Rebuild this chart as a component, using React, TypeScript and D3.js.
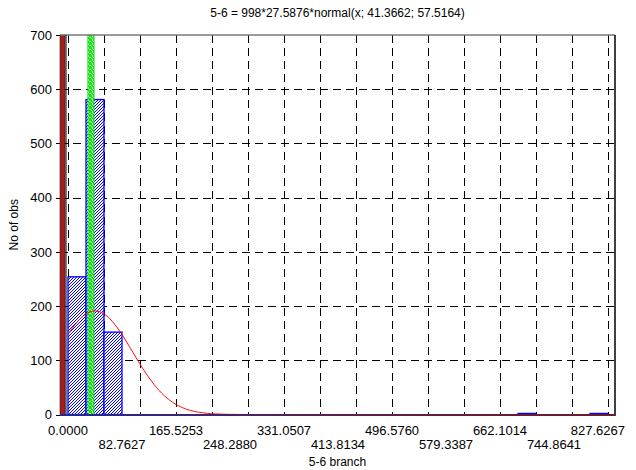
import React, { useRef, useEffect } from 'react';
import * as d3 from 'd3';

// histogram of "5-6 branch", 30 bins of width 27.5876
const binWidth = 27.5876;
const binCounts = [
  254, 581, 152, 0, 0, 0, 0, 0, 0, 0,
  0, 0, 0, 0, 0, 0, 0, 0, 0, 0,
  0, 0, 0, 0, 0, 2, 0, 0, 0, 2,
];
const xTickValues = [0, 82.7627, 165.5253, 248.288, 331.0507, 413.8134, 496.576, 579.3387, 662.1014, 744.8641, 827.6267];
const xTickLabels = ['0.0000', '82.7627', '165.5253', '248.2880', '331.0507', '413.8134', '496.5760', '579.3387', '662.1014', '744.8641', '827.6267'];
const yTickValues = [0, 100, 200, 300, 400, 500, 600, 700];

// fitted normal: 998*27.5876*normal(x; 41.3662; 57.5164)
const nObs = 998;
const fitMean = 41.3662;
const fitSd = 57.5164;

// special marker bar (green hatched, full height) and the dark red band at the left
const markerRange = [30.6, 39.8];
const leftBandRange = [-12.26, -4.6];

const title = '5-6 = 998*27.5876*normal(x; 41.3662; 57.5164)';
const xLabel = '5-6 branch';
const yLabel = 'No of obs';

const W = 636;
const H = 470;
const FONT = '"Liberation Sans", Arial, sans-serif';

const App = () => {
  const ref = useRef<SVGSVGElement>(null);

  useEffect(() => {
    const svg = d3.select(ref.current);
    svg.selectAll('*').remove();

    const left = 60, right = 615, top = 35, bottom = 414.5;
    const k = 540 / 827.6267;
    const x = d3.scaleLinear()
      .domain([-(68 - left) / k, 827.6267 + (right - 608) / k])
      .range([left, right]);
    const y = d3.scaleLinear().domain([0, 700]).range([bottom, top]);

    const defs = svg.append('defs');
    // pixel hatch: "/" diagonals of blue dots
    const blue = defs.append('pattern')
      .attr('id', 'hatchBlue')
      .attr('patternUnits', 'userSpaceOnUse')
      .attr('width', 3).attr('height', 3);
    blue.append('rect').attr('width', 3).attr('height', 3).attr('fill', '#fff');
    [[2, 0], [1, 1], [0, 2]].forEach(([px, py]) => {
      blue.append('rect').attr('x', px).attr('y', py).attr('width', 1).attr('height', 1)
        .attr('fill', '#0000ff').attr('shape-rendering', 'crispEdges');
    });

    const green = defs.append('pattern')
      .attr('id', 'hatchGreen')
      .attr('patternUnits', 'userSpaceOnUse')
      .attr('width', 4).attr('height', 4);
    green.append('rect').attr('width', 4).attr('height', 4).attr('fill', '#00ee00');
    [[0, 0], [1, 1], [2, 1], [3, 2], [0, 3]].forEach(([px, py]) => {
      green.append('rect').attr('x', px).attr('y', py).attr('width', 1).attr('height', 1)
        .attr('fill', '#fff').attr('shape-rendering', 'crispEdges');
    });

    svg.append('clipPath').attr('id', 'plotClip')
      .append('rect')
      .attr('x', left).attr('y', top)
      .attr('width', right - left).attr('height', bottom - top);

    // grid
    const grid = svg.append('g').attr('stroke', '#000').attr('stroke-width', 1)
      .attr('stroke-dasharray', '8,5');
    d3.range(0, 16).forEach(i => {
      const gx = Math.round(x(i * 2 * binWidth)) + 0.5;
      grid.append('line')
        .attr('x1', gx).attr('x2', gx)
        .attr('y1', top).attr('y2', bottom);
    });
    yTickValues.filter(v => v > 0 && v < 700).forEach(v => {
      const gy = Math.round(y(v)) + 0.5;
      grid.append('line')
        .attr('x1', left).attr('x2', right)
        .attr('y1', gy).attr('y2', gy);
    });

    const plot = svg.append('g').attr('clip-path', 'url(#plotClip)');

    // bars
    plot.selectAll('rect.bar')
      .data(binCounts)
      .join('rect')
      .attr('class', 'bar')
      .attr('x', (d, i) => x(i * binWidth))
      .attr('width', x(binWidth) - x(0))
      .attr('y', d => y(d))
      .attr('height', d => bottom - y(d))
      .attr('fill', 'url(#hatchBlue)')
      .attr('stroke', '#0000ff')
      .attr('stroke-width', 1.3);

    // marker bar
    plot.append('rect')
      .attr('x', x(markerRange[0]))
      .attr('width', x(markerRange[1]) - x(markerRange[0]))
      .attr('y', top)
      .attr('height', bottom - top)
      .attr('fill', 'url(#hatchGreen)')
      .attr('stroke', '#00dd00')
      .attr('stroke-width', 1);

    // fitted curve
    const curveX = d3.range(0, 838, 2);
    const dens = (v: number) =>
      nObs * binWidth * Math.exp(-0.5 * ((v - fitMean) / fitSd) ** 2) / (fitSd * Math.sqrt(2 * Math.PI));
    plot.append('path')
      .datum(curveX)
      .attr('d', d3.line<number>().x(v => x(v)).y(v => y(dens(v))))
      .attr('fill', 'none')
      .attr('stroke', '#ff0000')
      .attr('stroke-width', 1);

    // left band
    svg.append('rect')
      .attr('x', x(leftBandRange[0]))
      .attr('width', x(leftBandRange[1]) - x(leftBandRange[0]))
      .attr('y', top)
      .attr('height', bottom - top)
      .attr('fill', '#a11f1f')
      .attr('stroke', '#5a0f0f')
      .attr('stroke-width', 0.6);

    // frame
    svg.append('line').attr('x1', left).attr('x2', right).attr('y1', top).attr('y2', top)
      .attr('stroke', '#777').attr('stroke-width', 1.5);
    svg.append('line').attr('x1', right).attr('x2', right).attr('y1', top).attr('y2', bottom + 1)
      .attr('stroke', '#000').attr('stroke-width', 1.5);
    svg.append('line').attr('x1', 66).attr('x2', 66).attr('y1', top).attr('y2', bottom)
      .attr('stroke', '#000').attr('stroke-width', 1);
    const axisGrad = defs.append('linearGradient').attr('id', 'axisGrad');
    axisGrad.append('stop').attr('offset', '0%').attr('stop-color', '#1e2a9a');
    axisGrad.append('stop').attr('offset', '45%').attr('stop-color', '#5a2050');
    axisGrad.append('stop').attr('offset', '100%').attr('stop-color', '#6a1c2c');
    svg.append('rect')
      .attr('x', left).attr('y', bottom - 0.5)
      .attr('width', right - left + 0.75).attr('height', 2)
      .attr('fill', 'url(#axisGrad)');

    // y axis ticks and labels
    const yAxis = svg.append('g');
    yTickValues.forEach(v => {
      const ty = Math.round(y(v)) + 0.5;
      yAxis.append('line')
        .attr('x1', left - 4).attr('x2', left)
        .attr('y1', ty).attr('y2', ty)
        .attr('stroke', '#000');
      yAxis.append('text')
        .attr('x', 52).attr('y', y(v))
        .attr('dy', '0.36em')
        .attr('text-anchor', 'end')
        .attr('font-family', FONT).attr('font-size', 13)
        .text(String(v));
    });

    // x axis labels, alternating rows
    const xAxis = svg.append('g');
    xTickValues.forEach((v, i) => {
      const last = i === xTickValues.length - 1;
      xAxis.append('text')
        .attr('x', last ? x(v) + 17 : x(v))
        .attr('y', i % 2 === 0 ? 435 : 449)
        .attr('text-anchor', last ? 'end' : 'middle')
        .attr('font-family', FONT).attr('font-size', 13)
        .text(xTickLabels[i]);
    });

    svg.append('text')
      .attr('x', (left + right) / 2).attr('y', 466)
      .attr('text-anchor', 'middle')
      .attr('font-family', FONT).attr('font-size', 12)
      .text(xLabel);

    svg.append('text')
      .attr('transform', `translate(18,${(top + bottom) / 2}) rotate(-90)`)
      .attr('text-anchor', 'middle')
      .attr('font-family', FONT).attr('font-size', 12)
      .text(yLabel);

    svg.append('text')
      .attr('x', (left + right) / 2).attr('y', 17)
      .attr('text-anchor', 'middle')
      .attr('font-family', FONT).attr('font-size', 12)
      .text(title);
  }, []);

  return (
    <svg ref={ref} width={W} height={H}
      style={{ position: 'absolute', left: 0, top: 0, background: '#fff' }} />
  );
};

export default App;
